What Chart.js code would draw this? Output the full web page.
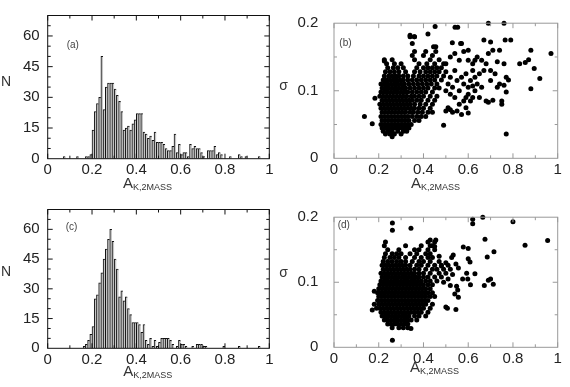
<!DOCTYPE html>
<html>
<head>
<meta charset="utf-8">
<script src="https://cdn.jsdelivr.net/npm/chart.js@4.4.1/dist/chart.umd.min.js"></script>
<style>
  html, body { margin: 0; padding: 0; background: #fff; }
  #wrap { position: relative; width: 570px; height: 387px; overflow: hidden; }
  canvas { position: absolute; }
</style>
</head>
<body>
<div id="wrap">
  <canvas id="histA" width="285" height="194" style="left:0;top:0"></canvas>
  <canvas id="histC" width="285" height="193" style="left:0;top:194px"></canvas>
  <canvas id="scatB" width="300" height="194" style="left:270px;top:0"></canvas>
  <canvas id="scatD" width="300" height="193" style="left:270px;top:194px"></canvas>
</div>
<script>
(() => {
  'use strict';

  // ヒストグラムのビン幅 (A_K,2MASS)
  const binWidth = 0.01;

  // (a) ビンごとの個数 0.00〜0.99
  const countsA = [
    0, 0, 0, 0, 0, 0, 0, 1, 0, 0,
    0, 0, 0, 1, 0, 0, 0, 1, 1, 2,
    14, 23, 27, 30, 50, 24, 35, 37, 37, 37,
    34, 31, 28, 23, 14, 15, 16, 14, 17, 19,
    22, 22, 22, 13, 12, 10, 11, 9, 13, 8,
    8, 8, 7, 5, 4, 4, 6, 12, 3, 7,
    2, 3, 3, 1, 7, 5, 6, 5, 5, 3,
    1, 0, 4, 4, 4, 6, 2, 3, 2, 0,
    0, 0, 1, 0, 0, 0, 2, 1, 0, 1,
    0, 0, 0, 0, 0, 1, 0, 0, 0, 0
  ];

  // (c) ビンごとの個数 0.00〜0.99
  const countsC = [
    0, 0, 0, 0, 0, 0, 0, 0, 0, 0,
    0, 0, 0, 0, 0, 0, 1, 2, 4, 7,
    11, 25, 27, 33, 38, 45, 50, 55, 60, 54,
    45, 40, 26, 29, 24, 26, 20, 17, 13, 13,
    13, 12, 8, 12, 4, 2, 5, 1, 4, 1,
    3, 5, 5, 5, 5, 4, 2, 0, 1, 4,
    2, 2, 1, 0, 0, 1, 0, 2, 2, 2,
    1, 1, 0, 0, 0, 0, 0, 0, 0, 1,
    0, 0, 0, 0, 0, 0, 1, 0, 0, 0,
    0, 0, 0, 0, 0, 1, 0, 0, 0, 0
  ];

  // (b) [A_K,2MASS, sigma]
  const pointsB = [
    [.23,.036],[.25,.036],[.27,.036],[.30,.036],
    [.22,.04],[.24,.04],[.26,.04],[.285,.04],[.31,.04],[.325,.04],
    [.215,.045],[.23,.045],[.245,.045],[.26,.045],[.275,.045],[.29,.045],[.305,.045],[.32,.045],[.335,.045],
    [.21,.05],[.225,.05],[.24,.05],[.255,.05],[.27,.05],[.285,.05],[.30,.05],[.315,.05],[.33,.05],[.345,.05],
    [.215,.056],[.23,.056],[.245,.056],[.26,.056],[.275,.056],[.29,.056],[.305,.056],[.32,.056],[.335,.056],[.36,.056],[.38,.056],
    [.21,.062],[.225,.062],[.24,.062],[.255,.062],[.27,.062],[.285,.062],[.30,.062],[.315,.062],[.33,.062],[.35,.062],[.37,.062],[.39,.062],[.41,.062],
    [.215,.068],[.23,.068],[.245,.068],[.26,.068],[.275,.068],[.29,.068],[.305,.068],[.32,.068],[.34,.068],[.355,.068],[.375,.068],[.395,.068],[.42,.068],[.44,.068],
    [.21,.074],[.225,.074],[.24,.074],[.255,.074],[.27,.074],[.285,.074],[.30,.074],[.315,.074],[.33,.074],[.345,.074],[.36,.074],[.38,.074],[.40,.074],[.43,.074],
    [.205,.08],[.22,.08],[.235,.08],[.25,.08],[.265,.08],[.28,.08],[.295,.08],[.31,.08],[.325,.08],[.34,.08],[.36,.08],[.385,.08],[.41,.08],[.44,.08],
    [.215,.086],[.23,.086],[.245,.086],[.26,.086],[.275,.086],[.29,.086],[.305,.086],[.32,.086],[.335,.086],[.35,.086],[.37,.086],[.39,.086],[.42,.086],[.45,.086],
    [.205,.092],[.22,.092],[.235,.092],[.25,.092],[.265,.092],[.28,.092],[.295,.092],[.31,.092],[.325,.092],[.345,.092],[.36,.092],[.38,.092],[.40,.092],[.43,.092],[.46,.092],
    [.21,.098],[.225,.098],[.24,.098],[.255,.098],[.27,.098],[.285,.098],[.30,.098],[.315,.098],[.33,.098],[.35,.098],[.37,.098],[.39,.098],[.41,.098],[.44,.098],
    [.215,.104],[.23,.104],[.245,.104],[.26,.104],[.275,.104],[.29,.104],[.305,.104],[.32,.104],[.34,.104],[.36,.104],[.38,.104],[.40,.104],[.42,.104],[.45,.104],[.47,.104],
    [.21,.11],[.225,.11],[.24,.11],[.255,.11],[.27,.11],[.285,.11],[.30,.11],[.315,.11],[.335,.11],[.355,.11],[.375,.11],[.395,.11],[.415,.11],[.435,.11],[.46,.11],
    [.22,.116],[.235,.116],[.25,.116],[.265,.116],[.28,.116],[.295,.116],[.31,.116],[.33,.116],[.35,.116],[.37,.116],[.39,.116],[.41,.116],[.43,.116],[.45,.116],[.48,.116],
    [.225,.122],[.245,.122],[.26,.122],[.275,.122],[.29,.122],[.31,.122],[.33,.122],[.355,.122],[.38,.122],[.40,.122],[.42,.122],[.44,.122],[.46,.122],[.49,.122],
    [.23,.128],[.25,.128],[.27,.128],[.29,.128],[.32,.128],[.36,.128],[.385,.128],[.41,.128],[.43,.128],[.45,.128],[.47,.128],[.50,.128],
    [.24,.134],[.265,.134],[.285,.134],[.31,.134],[.37,.134],[.40,.134],[.42,.134],[.44,.134],[.46,.134],[.48,.134],
    [.235,.14],[.27,.14],[.30,.14],[.38,.14],[.415,.14],[.45,.14],[.49,.14],
    [.225,.146],[.26,.146],[.36,.146],[.43,.146],[.47,.146],
    [.35,.152],[.40,.152],[.44,.152],
    [.36,.158],[.41,.158],[.455,.158],
    [.445,.165],[.455,.165],[.35,.17],[.34,.18],[.36,.18],
    [.136,.062],[.171,.051],[.183,.089],[.26,.032],[.225,.144],[.34,.182],[.359,.18],[.42,.184],[.452,.195],
    [.541,.194],[.553,.194],[.529,.171],[.566,.17],[.49,.049],
    [.50,.07],[.51,.075],[.52,.072],[.53,.068],[.55,.07],[.56,.08],[.57,.065],[.58,.085],[.59,.09],[.60,.095],
    [.61,.085],[.62,.09],[.63,.10],[.60,.067],[.54,.09],[.52,.095],
    [.50,.10],[.51,.11],[.52,.12],[.53,.105],[.54,.13],[.55,.115],[.56,.10],[.57,.12],[.58,.11],[.59,.125],
    [.60,.105],[.61,.115],[.62,.13],[.63,.12],[.64,.11],[.65,.125],[.66,.105],[.67,.13],
    [.50,.14],[.52,.15],[.54,.155],[.56,.145],[.58,.158],[.60,.145],[.62,.14],[.64,.15],[.66,.145],[.68,.14],
    [.70,.13],[.72,.125],[.71,.16],[.73,.143],[.74,.16],[.76,.14],
    [.57,.17],[.67,.175],[.70,.172],[.765,.175],[.79,.175],[.69,.2],[.76,.2],
    [.68,.085],[.69,.083],[.71,.086],[.75,.08],[.75,.085],[.77,.098],[.76,.108],[.78,.116],[.77,.12],[.77,.036],
    [.83,.14],[.855,.142],[.87,.146],[.88,.16],[.895,.133],[.88,.103],[.92,.118],[.97,.155],
    [.63,.145],[.60,.16],[.65,.09],[.59,.075],[.62,.107],[.74,.11],[.73,.105],[.70,.115],[.69,.155]
  ];

  // (d) [A_K,2MASS, sigma]
  const pointsD = [
    [.26,.03],[.29,.03],[.31,.03],[.33,.03],
    [.24,.036],[.255,.036],[.27,.036],[.285,.036],[.30,.036],[.315,.036],[.33,.036],
    [.225,.042],[.24,.042],[.255,.042],[.27,.042],[.285,.042],[.30,.042],[.315,.042],[.33,.042],[.345,.042],[.37,.042],
    [.215,.048],[.23,.048],[.245,.048],[.26,.048],[.275,.048],[.29,.048],[.305,.048],[.32,.048],[.335,.048],[.36,.048],[.38,.048],[.41,.048],
    [.21,.054],[.225,.054],[.24,.054],[.255,.054],[.27,.054],[.285,.054],[.30,.054],[.315,.054],[.33,.054],[.345,.054],[.36,.054],[.375,.054],[.39,.054],[.42,.054],
    [.19,.06],[.205,.06],[.22,.06],[.235,.06],[.25,.06],[.265,.06],[.28,.06],[.295,.06],[.31,.06],[.325,.06],[.34,.06],[.355,.06],[.37,.06],[.385,.06],[.40,.06],[.43,.06],
    [.18,.066],[.20,.066],[.215,.066],[.23,.066],[.245,.066],[.26,.066],[.275,.066],[.29,.066],[.305,.066],[.32,.066],[.335,.066],[.35,.066],[.365,.066],[.38,.066],[.395,.066],[.41,.066],[.44,.066],
    [.195,.072],[.21,.072],[.225,.072],[.24,.072],[.255,.072],[.27,.072],[.285,.072],[.30,.072],[.315,.072],[.33,.072],[.345,.072],[.36,.072],[.375,.072],[.39,.072],[.405,.072],[.42,.072],
    [.20,.078],[.215,.078],[.23,.078],[.245,.078],[.26,.078],[.275,.078],[.29,.078],[.305,.078],[.32,.078],[.335,.078],[.35,.078],[.365,.078],[.38,.078],[.395,.078],[.41,.078],[.43,.078],[.45,.078],
    [.195,.084],[.21,.084],[.225,.084],[.24,.084],[.255,.084],[.27,.084],[.285,.084],[.30,.084],[.315,.084],[.33,.084],[.345,.084],[.36,.084],[.375,.084],[.39,.084],[.405,.084],[.42,.084],[.44,.084],
    [.20,.09],[.215,.09],[.23,.09],[.245,.09],[.26,.09],[.275,.09],[.29,.09],[.305,.09],[.32,.09],[.335,.09],[.35,.09],[.365,.09],[.38,.09],[.395,.09],[.41,.09],[.43,.09],
    [.205,.096],[.22,.096],[.235,.096],[.25,.096],[.265,.096],[.28,.096],[.295,.096],[.31,.096],[.325,.096],[.34,.096],[.355,.096],[.37,.096],[.385,.096],[.40,.096],[.42,.096],[.44,.096],
    [.21,.102],[.225,.102],[.24,.102],[.255,.102],[.27,.102],[.285,.102],[.30,.102],[.315,.102],[.33,.102],[.345,.102],[.36,.102],[.375,.102],[.39,.102],[.41,.102],[.43,.102],[.46,.102],
    [.215,.108],[.23,.108],[.245,.108],[.26,.108],[.275,.108],[.29,.108],[.305,.108],[.32,.108],[.335,.108],[.35,.108],[.365,.108],[.38,.108],[.40,.108],[.42,.108],[.45,.108],[.48,.108],
    [.21,.114],[.225,.114],[.24,.114],[.255,.114],[.27,.114],[.285,.114],[.30,.114],[.315,.114],[.33,.114],[.345,.114],[.36,.114],[.38,.114],[.40,.114],[.43,.114],[.47,.114],[.50,.114],
    [.22,.12],[.235,.12],[.25,.12],[.265,.12],[.28,.12],[.295,.12],[.31,.12],[.325,.12],[.34,.12],[.36,.12],[.38,.12],[.41,.12],[.44,.12],[.46,.12],[.49,.12],
    [.215,.126],[.23,.126],[.245,.126],[.26,.126],[.275,.126],[.29,.126],[.305,.126],[.32,.126],[.34,.126],[.37,.126],[.39,.126],[.42,.126],[.45,.126],[.48,.126],[.51,.126],
    [.22,.132],[.24,.132],[.26,.132],[.28,.132],[.30,.132],[.32,.132],[.35,.132],[.38,.132],[.40,.132],[.43,.132],[.47,.132],
    [.225,.138],[.25,.138],[.27,.138],[.29,.138],[.32,.138],[.36,.138],[.39,.138],[.42,.138],[.44,.138],
    [.23,.144],[.26,.144],[.28,.144],[.30,.144],[.34,.144],[.37,.144],[.41,.144],[.43,.144],
    [.24,.15],[.29,.15],[.36,.15],[.38,.15],[.42,.15],[.45,.15],
    [.225,.156],[.32,.156],[.39,.156],[.43,.156],[.44,.156],
    [.23,.162],[.42,.162],[.45,.162],
    [.171,.0575],[.18,.086],[.261,.011],[.261,.191],[.261,.18],[.344,.183],[.344,.029],
    [.62,.197],[.62,.19],[.665,.2],[.80,.193],[.854,.157],[.955,.164],[.715,.147],[.675,.166],[.685,.139],
    [.69,.103],[.70,.105],[.672,.095],[.712,.097],[.63,.113],[.60,.152],[.60,.136],[.608,.131],[.598,.105],[.61,.096],
    [.578,.154],[.533,.142],[.526,.138],[.556,.122],[.545,.128],[.593,.114],[.575,.105],[.548,.094],[.553,.088],[.556,.077],
    [.507,.06],[.545,.058],[.50,.062],[.52,.12],[.53,.112],[.51,.105],[.49,.10],[.50,.13],[.52,.095],[.54,.082],
    [.43,.165],[.455,.165],[.45,.155],[.47,.14],[.48,.125]
  ];

  // 目盛り
  const histYTicks = [0, 15, 30, 45, 60];
  const sigmaTicks = [0, 0.1, 0.2];
  const akTicks = [0, 0.2, 0.4, 0.6, 0.8, 1];

  const family = "'Liberation Sans', Arial, sans-serif";
  Chart.defaults.font.family = family;

  //枠と内向きの目盛り, 軸タイトル
  const framePlugin = {
    id: 'frame',
    afterDraw(chart, args, o) {
      const {ctx, chartArea: a, scales} = chart;
      ctx.save();
      ctx.strokeStyle = o.color;
      ctx.lineWidth = 1;
      ctx.strokeRect(a.left, a.top, a.right - a.left, a.bottom - a.top);
      ctx.beginPath();
      o.xMarks.forEach(([v, len]) => {
        const px = scales.x.getPixelForValue(v);
        ctx.moveTo(px, a.bottom); ctx.lineTo(px, a.bottom - len);
        ctx.moveTo(px, a.top); ctx.lineTo(px, a.top + len);
      });
      o.yMarks.forEach(([v, len]) => {
        const py = scales.y.getPixelForValue(v);
        ctx.moveTo(a.left, py); ctx.lineTo(a.left + len, py);
        ctx.moveTo(a.right, py); ctx.lineTo(a.right - len, py);
      });
      ctx.stroke();

      ctx.fillStyle = '#333';
      ctx.textBaseline = 'alphabetic';
      // 縦軸タイトル
      ctx.font = '14px ' + family;
      ctx.textAlign = 'center';
      ctx.fillText(o.yTitle.text, o.yTitle.x, o.yTitle.y);
      // パネル記号
      ctx.fillStyle = '#444';
      ctx.font = '10px ' + family;
      ctx.textAlign = 'left';
      ctx.fillText(o.tag.text, o.tag.x, o.tag.y);
      // 横軸タイトル A_K,2MASS
      ctx.fillStyle = '#333';
      ctx.font = '15px ' + family;
      ctx.fillText('A', o.xTitle.x, o.xTitle.y);
      const w = ctx.measureText('A').width;
      ctx.font = '9px ' + family;
      ctx.fillText('K,2MASS', o.xTitle.x + w, o.xTitle.y + 2);
      ctx.restore();
    }
  };

  const xMarks = [];
  akTicks.concat([0.1, 0.3, 0.5, 0.7, 0.9]).forEach((v) => {
    xMarks.push([v, akTicks.includes(v) ? 5 : 3]);
  });
  const histYMarks = [];
  for (let v = 5; v < 70; v += 5) {
    histYMarks.push([v, histYTicks.includes(v) ? 5 : 3]);
  }
  const sigmaYMarks = [[0.05, 3], [0.1, 5], [0.15, 3]];

  const tickFont = {size: 15, lineHeight: 1};
  // 1.0 ではなく 1 と表示
  const akLabel = (v) => String(Math.round(v * 10) / 10);

  const makeHist = (id, counts, pad, frame) => {
    const data = [];
    counts.forEach((c, i) => {
      if (c > 0) data.push({x: (i + 0.5) * binWidth, y: c});
    });
    return new Chart(document.getElementById(id), {
      type: 'bar',
      data: {
        datasets: [{
          data: data,
          backgroundColor: '#c6c6c6',
          borderColor: '#111',
          borderWidth: {top: 1, left: 1, right: 0, bottom: 0},
          borderSkipped: false,
          barPercentage: 1,
          categoryPercentage: 1
        }]
      },
      options: {
        responsive: false,
        devicePixelRatio: 1,
        animation: false,
        events: [],
        layout: {padding: pad},
        plugins: {legend: {display: false}, tooltip: {enabled: false}, frame: frame},
        scales: {
          x: {
            type: 'linear', min: 0, max: 1, offset: false,
            grid: {display: false, drawTicks: false, offset: false},
            border: {display: false},
            ticks: {stepSize: 0.2, padding: 4, maxRotation: 0, color: '#222', font: tickFont, callback: akLabel},
            afterFit: (s) => { s.height = 20; }
          },
          y: {
            min: 0, max: 70,
            grid: {display: false, drawTicks: false},
            border: {display: false},
            ticks: {stepSize: 15, includeBounds: false, padding: 8, color: '#222', font: tickFont},
            afterFit: (s) => { s.width = 47.7; }
          }
        }
      },
      plugins: [framePlugin]
    });
  };

  const makeScatter = (id, points, pad, frame) => {
    return new Chart(document.getElementById(id), {
      type: 'scatter',
      data: {
        datasets: [{
          data: points.map(([x, y]) => ({x: x, y: y})),
          pointRadius: 2.5,
          pointBackgroundColor: '#000',
          pointBorderWidth: 0,
          clip: 4
        }]
      },
      options: {
        responsive: false,
        devicePixelRatio: 1,
        animation: false,
        events: [],
        layout: {padding: pad},
        plugins: {legend: {display: false}, tooltip: {enabled: false}, frame: frame},
        scales: {
          x: {
            type: 'linear', min: 0, max: 1,
            grid: {display: false, drawTicks: false},
            border: {display: false},
            ticks: {stepSize: 0.2, padding: 4, maxRotation: 0, color: '#222', font: tickFont, callback: akLabel},
            afterFit: (s) => { s.height = 20; }
          },
          y: {
            min: 0, max: 0.2,
            grid: {display: false, drawTicks: false},
            border: {display: false},
            ticks: {stepSize: 0.1, padding: 15.7, color: '#222', font: tickFont},
            afterFit: (s) => { s.width = 64; }
          }
        }
      },
      plugins: [framePlugin]
    });
  };

  makeHist('histA', countsA, {left: 0, top: 11.7, right: 15.7, bottom: 15.3}, {
    color: '#111', xMarks: xMarks, yMarks: histYMarks,
    yTitle: {text: 'N', x: 6, y: 86},
    tag: {text: '(a)', x: 66.7, y: 48},
    xTitle: {x: 123, y: 188}
  });
  makeHist('histC', countsC, {left: 0, top: 6.7, right: 15.7, bottom: 18.7}, {
    color: '#111', xMarks: xMarks, yMarks: histYMarks,
    yTitle: {text: 'N', x: 6, y: 82},
    tag: {text: '(c)', x: 65.7, y: 36},
    xTitle: {x: 123.3, y: 181.7}
  });
  makeScatter('scatB', pointsB, {left: 0, top: 11.7, right: 12.3, bottom: 15.7}, {
    color: '#999', xMarks: xMarks, yMarks: sigmaYMarks,
    yTitle: {text: 'σ', x: 13.5, y: 90},
    tag: {text: '(b)', x: 69.3, y: 46},
    xTitle: {x: 141, y: 188}
  });
  makeScatter('scatD', pointsD, {left: 0, top: 8.3, right: 12.3, bottom: 19.7}, {
    color: '#999', xMarks: xMarks, yMarks: sigmaYMarks,
    yTitle: {text: 'σ', x: 13.5, y: 83},
    tag: {text: '(d)', x: 67.7, y: 33.5},
    xTitle: {x: 140, y: 178}
  });
})();
</script>
</body>
</html>
